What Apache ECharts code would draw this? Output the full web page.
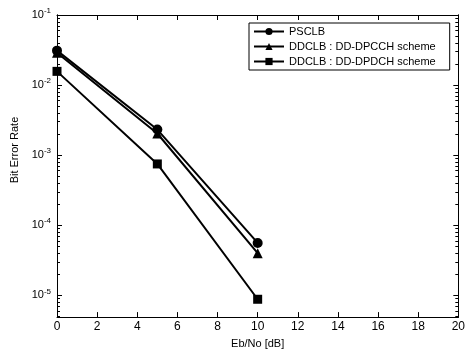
<!DOCTYPE html>
<html>
<head>
<meta charset="utf-8">
<script src="https://cdn.jsdelivr.net/npm/echarts@6/dist/echarts.min.js"></script>
<style>
html,body{margin:0;padding:0;background:#fff;}
#chart{width:468px;height:354px;}
</style>
</head>
<body>
<div id="chart"></div>
<script>
// Eb/No points (dB)
const ebno = [0, 5, 10];
// Bit error rate per scheme
const psclb = [3.1e-2, 2.32e-3, 5.6e-5];
const ddpcch = [2.9e-2, 2.04e-3, 4.0e-5];
const ddpdch = [1.57e-2, 7.5e-4, 8.8e-6];
const seriesNames = ['PSCLB', 'DDCLB : DD-DPCCH scheme', 'DDCLB : DD-DPDCH scheme'];
// y range (log10) and decade tick labels
const yMinLog = -5.31, yMaxLog = -1;
const yDecades = [-5, -4, -3, -2, -1];

const minorTicks = [];
for (let n = -6; n <= -2; n++) {
  for (let k = 2; k <= 9; k++) {
    const v = Math.log10(k) + n;
    if (v > yMinLog && v < yMaxLog) minorTicks.push(v);
  }
}

const toPts = arr => ebno.map((x, i) => [x, Math.log10(arr[i])]);
const font = 'Liberation Sans, Arial, sans-serif';

function yAxisDef(pos, withLabels, ticks, len) {
  return {
    type: 'value', position: pos, min: yMinLog, max: yMaxLog,
    axisLine: { show: true, onZero: false, lineStyle: { color: '#000', width: 1 } },
    axisTick: { show: true, inside: true, length: len, customValues: ticks, lineStyle: { color: '#000' } },
    axisLabel: withLabels ? {
      show: true, customValues: yDecades, margin: 6,
      formatter: v => '{b|10}{s|' + Math.round(v) + '}',
      rich: {
        b: { fontFamily: font, fontSize: 11, color: '#000' },
        s: { fontFamily: font, fontSize: 8, color: '#000', padding: [0, 0, 8, 0] }
      }
    } : { show: false },
    splitLine: { show: false },
    name: withLabels && pos === 'left' ? 'Bit Error Rate' : '',
    nameLocation: 'middle', nameGap: 26,
    nameTextStyle: { fontFamily: font, fontSize: 11, color: '#000', padding: [0, 0, 0, 32] }
  };
}

function xAxisDef(pos, withLabels) {
  return {
    type: 'value', position: pos, min: 0, max: 20, interval: 2,
    axisLine: { show: true, onZero: false, lineStyle: { color: '#000', width: 1 } },
    axisTick: { show: true, inside: true, length: 5, lineStyle: { color: '#000' } },
    axisLabel: withLabels ? { show: true, fontFamily: font, fontSize: 12, color: '#000', margin: 4 } : { show: false },
    splitLine: { show: false },
    name: withLabels ? 'Eb/No [dB]' : '',
    nameLocation: 'middle', nameGap: 20,
    nameTextStyle: { fontFamily: font, fontSize: 11, color: '#000' }
  };
}

const symbols = ['circle', 'triangle', 'rect'];
const symSizes = [10, 10, 9];
const datasets = [psclb, ddpcch, ddpdch];

const chart = echarts.init(document.getElementById('chart'), null, { renderer: 'canvas' });
chart.setOption({
  backgroundColor: '#fff',
  animation: false,
  grid: { left: 57, right: 5, top: 15, bottom: 33 },
  xAxis: [xAxisDef('bottom', true), xAxisDef('top', false)],
  yAxis: [
    yAxisDef('left', true, yDecades, 5),
    yAxisDef('left', false, minorTicks, 3),
    yAxisDef('right', false, yDecades, 5),
    yAxisDef('right', false, minorTicks, 3)
  ],
  legend: {
    left: 249, top: 23, orient: 'vertical',
    padding: [3, 14, 3, 4],
    itemGap: 4, itemWidth: 30, itemHeight: 9,
    backgroundColor: '#fff', borderColor: '#000', borderWidth: 1,
    textStyle: { fontFamily: font, fontSize: 11, color: '#000' },
    data: seriesNames
  },
  series: datasets.map((d, i) => ({
    name: seriesNames[i], type: 'line',
    xAxisIndex: 0, yAxisIndex: 0,
    data: toPts(d),
    symbol: symbols[i], symbolSize: symSizes[i],
    itemStyle: { color: '#000' },
    lineStyle: { color: '#000', width: 2 }
  }))
});
</script>
</body>
</html>
